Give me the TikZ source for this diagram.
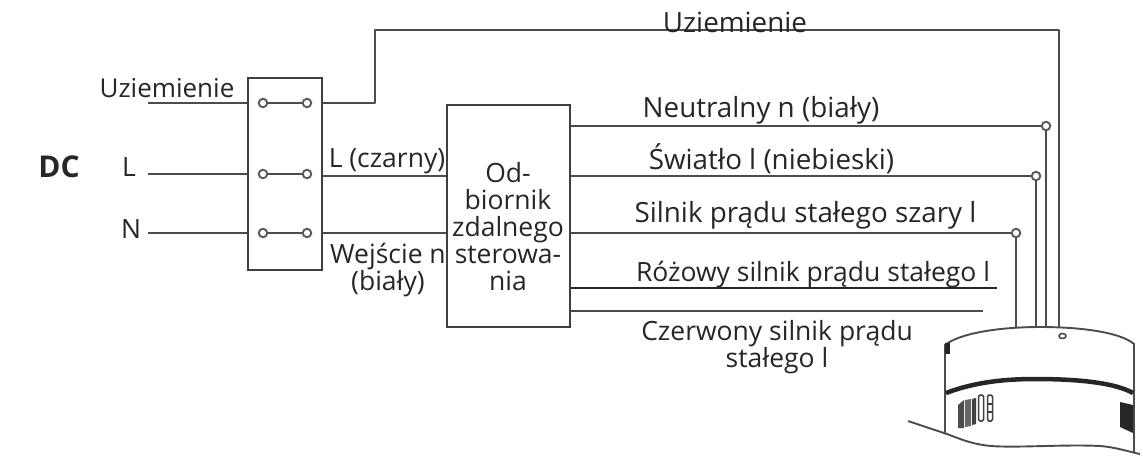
\documentclass[tikz,border=0pt]{standalone}
\usepackage{fontspec}
\setmainfont{Open Sans}
\tikzset{
  wire/.style={draw=black!70,line width=1.9pt},
  boxs/.style={draw=black!75,line width=1.9pt,fill=none,inner sep=0pt},
  term/.style={circle,draw=black!65,line width=1.9pt,fill=white,minimum size=8.5pt,inner sep=0pt},
  lab/.style={font=\fontsize{26.5}{27}\selectfont,text=black!85,inner sep=0pt,align=center},
  labwide/.style={lab,font=\fontsize{27.8}{27}\selectfont},
  dev/.style={draw=black!70,line width=1.9pt},
}
\begin{document}
\begin{tikzpicture}[x=1pt,y=-1pt]
\useasboundingbox (0,0) rectangle (1143,456);
% switch box
\node[boxs,minimum width=74pt,minimum height=192pt] (sw) at (285,174) {};
\node[term] (a1) at (263,103) {};
\node[term] (a2) at (307,103) {};
\node[term] (b1) at (263,174) {};
\node[term] (b2) at (307,174) {};
\node[term] (c1) at (263,233) {};
\node[term] (c2) at (307,233) {};
\draw[wire] (a1) -- (a2);
\draw[wire] (b1) -- (b2);
\draw[wire] (c1) -- (c2);
\coordinate (ga) at (148,103);
\coordinate (la) at (148,174);
\coordinate (na) at (148,233);
\draw[wire] (ga) -- (ga -| sw.west);
\draw[wire] (la) -- (la -| sw.west);
\draw[wire] (na) -- (na -| sw.west);
% receiver
\node[boxs,minimum width=123pt,minimum height=222pt] (rx) at (508.5,216) {};
\draw[wire] (sw.east |- 0,176) -- (rx.west |- 0,176);
\draw[wire] (sw.east |- 0,233) -- (rx.west |- 0,233);
% ground
\coordinate (gb) at (375,103);
\coordinate (gc) at (375,30);
\coordinate (gd) at (1059,30);
\coordinate (ge) at (1059,327);
\draw[wire,line join=round] (sw.east |- gb) -- (gb) -- (gc) -- (gd) -- (ge);
% outputs
\node[term] (o1) at (1046,126) {};
\node[term] (o2) at (1036,176) {};
\node[term] (o3) at (1016,233) {};
\draw[wire] (rx.east |- o1) -- (o1);
\draw[wire] (rx.east |- o2) -- (o2);
\draw[wire] (rx.east |- o3) -- (o3);
\coordinate (d1) at (1046,327);
\coordinate (d2) at (1036,327);
\coordinate (d3) at (1016,327);
\draw[wire] (o1) -- (d1);
\draw[wire] (o2) -- (d2);
\draw[wire] (o3) -- (d3);
\coordinate (p) at (997,288);
\coordinate (r) at (983,311);
\draw[wire,black!85] (rx.east |- p) -- (p);
\draw[wire] (rx.east |- r) -- (r);
% device
\draw[dev] (945,434) -- (945,345) .. controls (960,333) and (1000,327) .. (1040,327) .. controls (1080,327) and (1120,332) .. (1134,344) -- (1134,452);
\draw[dev] (908,421) -- (947,434) .. controls (960,439) and (970,443) .. (983,445) .. controls (1005,449) and (1060,444) .. (1100,446) .. controls (1115,447) and (1130,452) .. (1140,454);
\draw[black!85,line width=4.5pt] (946,393) .. controls (975,382) and (1005,379) .. (1035,379) .. controls (1080,379) and (1115,383) .. (1133,393);
\fill[black!85] (945,343) rectangle (950,354);
\fill[black!85] (1120,402) -- (1133,405) -- (1133,433) -- (1120,427) -- cycle;
\draw[dev,line width=1.6pt] (1062.5,336) ellipse (3.5pt and 2.5pt);
\fill[black!70] (958,405) -- (964,400) -- (964,428) -- (958,428) -- cycle;
\fill[black!60] (965,400) -- (971,399) -- (971,426) -- (965,427) -- cycle;
\fill[black!75] (972,399) -- (976,398) -- (976,424) -- (972,425) -- cycle;
\foreach \x in {981,990}{\draw[black!75,line width=1.5pt,rounded corners=1.5pt] (\x-2.5,395) rectangle (\x+2.5,421);}
\draw[black!75,line width=1.2pt] (987.5,404) -- (992.5,404) (987.5,412) -- (992.5,412);
% labels
\node[lab,font=\fontsize{30}{32}\selectfont\bfseries] (dc) at (59,167) {DC};
\node[lab,font=\fontsize{26}{27}\selectfont] (t1) at (167,88) {Uziemienie};
\node[lab] (t2) at (129,167) {L};
\node[lab] (t3) at (131,229) {N};
\node[labwide] (t4) at (735,22) {Uziemienie};
\node[labwide] (t5) at (761,110) {Neutralny n (biały)};
\node[labwide] (t6) at (771.5,159) {Światło l (niebieski)};
\node[labwide] (t7) at (805.5,215) {Silnik prądu stałego szary l};
\node[lab] (t8) at (813,275) {Różowy silnik prądu stałego l};
\node[lab] (t9) at (777,347) {Czerwony silnik prądu\\stałego l};
\node[lab] (t10) at (387,161) {L (czarny)};
\node[lab] (t11) at (388,270) {Wejście n\\(biały)};
\node[lab] (t12) at (508,227) {Od-\\biornik\\zdalnego\\sterowa-\\nia};
\end{tikzpicture}
\end{document}
